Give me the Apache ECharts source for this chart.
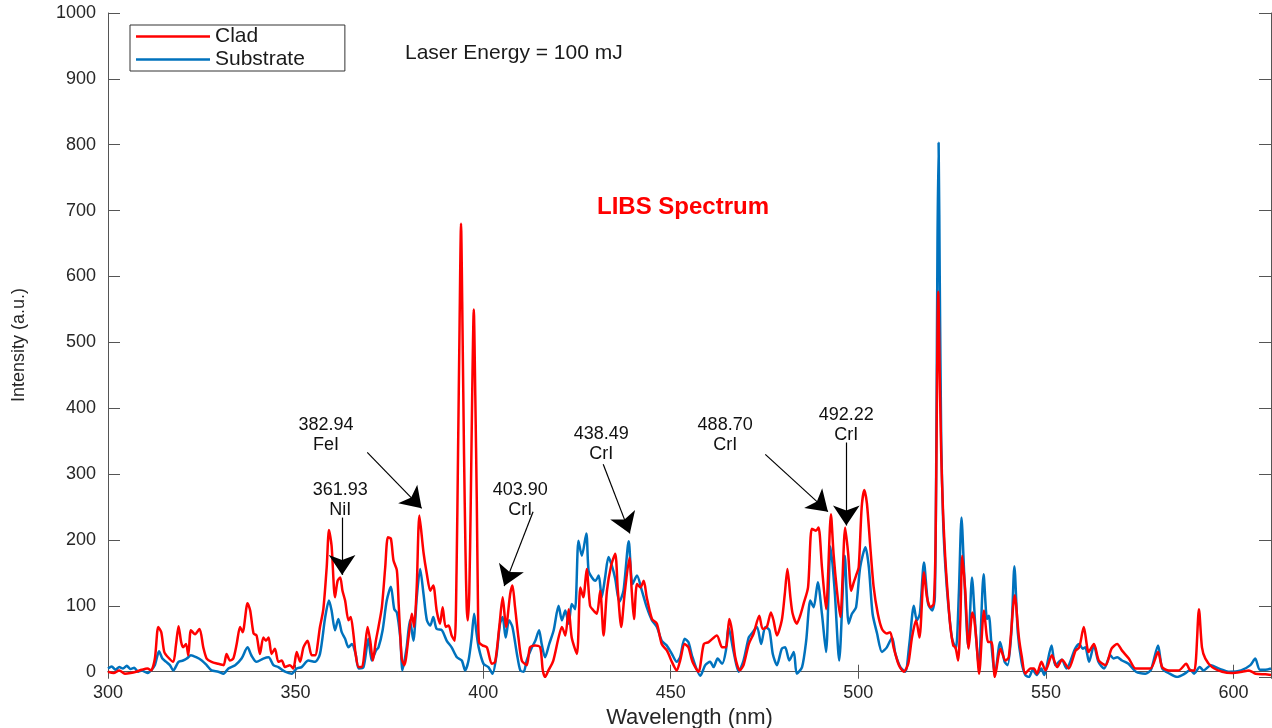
<!DOCTYPE html>
<html>
<head>
<meta charset="utf-8">
<title>LIBS Spectrum</title>
<script src="https://cdn.jsdelivr.net/npm/echarts@6/dist/echarts.min.js"></script>
<style>
  html, body { margin: 0; padding: 0; background: #fff; }
  #chart { width: 1272px; height: 728px; }
</style>
</head>
<body>
<div id="chart"></div>
<script>
// Clad spectrum (red)
const cladWl = [300,301.5,303,304.5,306,307.5,309,310.5,311.5,312.5,313.4,314.2,315,316,317.4,318.1,318.8,319.5,320,320.8,321.4,322.1,323.2,324.4,325.4,326.3,327.6,329.4,330.8,331.6,332.5,333.4,334.3,335.2,335.9,337.2,337.9,338.8,339.6,340.5,341.4,342.1,342.8,343.6,344.5,345.4,346.3,347.2,348.5,349.4,350.3,351.2,352.1,353.2,354.3,355.2,356.5,357.4,358.3,358.9,359.6,360.5,361.2,361.9,362.5,363.2,364.1,364.7,365.4,366,366.8,367.7,368.5,369.2,369.9,370.6,371.4,372.1,373,373.9,374.6,375.4,376.1,377,377.5,378.3,379,380.1,381,381.6,382.3,383,384.1,385,385.9,386.7,387.6,388.5,389.2,390,390.8,391.6,392.4,392.9,393.3,393.7,394.1,394.5,394.9,395.3,395.6,395.9,396.3,396.7,397.1,397.5,397.9,398.3,398.6,398.9,399.8,401,402.3,403.2,404.3,405.2,406.1,407.2,407.8,408.5,409.4,410.3,411.6,412.5,413.9,415.2,415.9,416.5,417.4,418.7,420.1,421,421.9,422.8,423.6,425,425.9,426.7,427.6,428.5,429.4,430.3,431.2,432.1,433,434.1,435.2,435.9,436.8,437.7,439,439.6,440.2,441,441.9,442.8,443.6,445,446.3,447.6,449,450.3,451.6,452.5,453.7,454.7,455.8,457.4,458.8,460.1,462.3,463.7,464.7,465.6,466.3,467.2,468.4,469.4,470.8,472.1,473.6,474.5,475.6,476.7,477.4,478.3,479.6,480.4,481.1,481.9,482.5,483.6,484.5,485.4,486.6,487.6,488.7,489.4,490.3,491.4,492.7,493.4,494.3,495.2,496.5,497.3,498.1,498.8,499.4,500.1,500.9,501.6,502.3,503.2,504.1,505.2,506.3,507.6,508.5,509.4,510.8,512.1,513.3,514.3,515.4,516.3,517.5,518.3,519.2,520.1,520.6,521,521.3,521.7,522.1,522.6,523.2,523.8,524.5,525.3,525.9,526.6,527.2,527.7,528.5,529.4,530.4,530.9,531.5,532.2,533.5,534.6,535.5,536.4,537.9,539.2,540.1,541.7,542.8,543.6,544.5,545.9,546.8,547.6,548.8,549.9,551.6,553,554.3,556.1,557.9,558.9,560.1,561.4,562.8,564.1,565.9,567.5,569,570.3,572.1,573.9,575.9,577.9,579.9,581,582.8,585.4,587.4,588.5,589.6,590.8,591.6,592.5,594.3,597,599.6,602.3,604.1,605.9,608.5,610];
const cladInt = [0,-2,2,-3,-2,0,3,5,2,20,68,60,30,22,15,40,69,45,37,42,25,63,57,65,37,20,15,12,10,27,17,20,42,68,60,104,93,58,55,27,52,47,52,27,35,15,17,7,10,5,30,15,37,47,25,25,68,95,159,215,191,113,138,143,123,108,78,83,58,27,7,7,37,68,47,17,47,68,98,159,204,202,169,154,100,20,10,52,88,68,130,237,181,148,123,131,93,73,98,68,70,55,47,150,330,520,680,520,330,180,100,78,120,260,430,550,420,260,110,45,40,37,12,15,68,113,68,118,131,98,52,17,10,37,40,37,2,-8,2,17,52,68,55,95,52,27,128,113,156,100,93,88,123,55,123,161,179,123,68,118,173,123,80,133,128,138,113,80,73,42,32,15,2,17,42,37,15,0,42,45,55,37,37,80,63,22,2,10,42,58,85,65,68,90,78,55,78,118,156,113,88,73,85,103,128,217,214,219,159,95,239,179,123,83,219,179,123,136,146,159,250,276,255,189,128,88,65,58,60,37,10,0,12,52,78,52,151,113,98,103,200,450,577,450,330,240,170,120,70,40,37,17,80,176,123,35,90,80,45,-3,93,45,45,-8,35,17,22,116,52,22,-3,5,5,-3,15,2,25,7,18,5,32,37,68,30,42,17,10,35,42,32,20,5,5,5,30,7,2,2,12,2,2,95,37,20,7,0,-2,0,2,-3,-4,-5];

// Substrate spectrum (blue)
const subWl = [300,301,302,303,304,305,306,307,308,309,310.5,311.5,312.5,313.6,314.5,315.5,316.5,317.4,318.8,320,321,322.1,323.5,325,326.3,327.6,329.4,330.8,332.1,333.9,335.6,337.2,338.2,339.6,341.4,342.8,344.1,345.4,347.2,349,350.3,351.6,353.4,355.2,356.5,357.9,358.9,359.6,360.5,361.4,362.3,363.2,364.1,365,366,366.8,368.1,369.4,370.3,371.4,372.1,373.2,374.3,375.4,376.3,377,377.9,378.5,379.6,380.5,381.4,382.3,383.2,384.1,385,385.9,386.7,387.6,389,390.3,391.6,393,394.3,395.2,396.1,396.9,397.6,398.2,398.8,400.1,401.4,402.5,403.6,404.5,405.2,406,406.9,407.8,409,409.9,410.8,411.6,413,413.9,414.9,415.6,416.5,417.6,418.8,420.1,421,421.9,422.8,423.6,424.5,425.4,426.3,427.5,428.1,429,429.9,430.8,431.6,432.5,433.4,434.3,435.2,436.3,437.4,438.8,439.8,441,442.3,443.6,445,446.3,447.6,448.9,450.3,451.6,452.5,453.7,454.7,455.8,457.9,459.2,460.5,461.4,462.5,463.7,464.7,465.4,466.7,468.1,469.4,470.8,471.6,473,474.1,475.2,476.3,477.2,478.3,479.6,480.5,481.6,482.8,483.6,485,486.1,487.2,488.1,489.2,490.3,491.4,492.6,493.7,494.9,496.4,497.4,498.3,499.4,500.5,501.9,502.8,503.8,505,506.3,507.6,509,509.9,511.2,512.5,513.6,514.8,515.6,516.4,517.5,518.6,519.7,520.4,520.8,521.1,521.4,521.7,522.1,522.6,523.2,524,525,526,526.8,527.5,528.3,529.3,530.3,531.2,532.1,533.4,534.3,534.8,535.5,536.4,537.8,539,539.8,540.8,541.6,542.5,543.5,544.5,545.5,546.5,547.5,548.8,549.5,551.5,552.5,554.2,555.5,557.8,558.9,559.8,560.5,561.5,562.8,564,565.5,567.2,568,569,570.3,572,574,576.5,578,579.9,581,583,585,587,588.5,589.5,591,592,594,596,599,602,604.5,605.8,607,608.5,610];
const subInt = [5,8,3,7,5,9,4,6,0,2,-2,2,10,31,20,15,10,2,15,17,20,25,22,17,10,2,0,-3,5,10,20,37,25,15,20,22,10,7,0,-3,5,7,17,15,27,83,108,93,63,80,60,50,37,42,27,5,7,50,17,32,37,63,108,129,95,90,52,2,37,78,47,113,156,118,78,70,83,65,63,47,37,22,17,2,17,50,88,60,37,12,7,-3,27,73,83,52,78,68,27,2,0,17,37,47,63,42,22,42,63,100,78,93,73,103,95,199,176,210,153,143,138,146,113,143,174,161,141,106,123,198,133,146,123,98,78,68,47,40,27,15,22,50,45,22,-6,10,15,7,20,12,32,68,32,0,17,52,58,68,42,68,63,27,10,35,37,17,30,-3,7,47,108,98,136,88,30,190,123,17,176,73,88,98,159,189,159,88,58,30,37,52,27,7,0,42,100,78,88,166,103,93,113,350,650,803,600,350,230,160,100,50,35,120,234,138,37,143,68,5,148,80,85,40,-5,45,15,10,60,160,60,15,-5,-8,3,-5,5,-5,40,10,18,5,35,42,35,37,15,40,15,5,25,20,22,17,12,0,-3,3,40,5,-3,-8,-3,3,-3,7,2,10,5,0,2,10,20,3,3,5];

const yTicks = [0, 100, 200, 300, 400, 500, 600, 700, 800, 900, 1000];

// peak annotations: label, text anchor, arrow start, arrow tip (data units)
const annoText = ["382.94\nFeI", "361.93\nNiI", "403.90\nCrI", "438.49\nCrI", "488.70\nCrI", "492.22\nCrI"];
const annoAt = [[358.1, 360], [361.9, 261], [409.9, 261], [431.5, 345], [464.5, 359], [496.8, 374]];
const arrowFrom = [[369.1, 333], [362.4, 234], [413.3, 243], [432, 315], [475.2, 330], [496.8, 348]];
const arrowTo = [[383.6, 248], [362.4, 147], [405.6, 130], [439.1, 210], [491.9, 243], [496.8, 222]];

const FONT = "'Liberation Sans', Arial, sans-serif";
const AXIS_COLOR = "#555";
const LABEL_COLOR = "#262626";

var myChart = echarts.init(document.getElementById("chart"));

const zip = (xs, ys) => xs.map((x, i) => [x, ys[i]]);

const option = {
  animation: false,
  backgroundColor: "#fff",
  textStyle: { fontFamily: FONT },
  title: [
    {
      text: "LIBS Spectrum",
      left: 678,
      top: 190,
      textAlign: "center",
      textStyle: { color: "#ff0000", fontSize: 24, fontWeight: "bold", fontFamily: FONT },
    },
    {
      text: "Laser Energy = 100 mJ",
      left: 400,
      top: 38,
      textStyle: { color: "#1a1a1a", fontSize: 21, fontWeight: "normal", fontFamily: FONT },
    },
  ],
  legend: {
    orient: "vertical",
    left: 130,
    top: 25,
    data: [
      { name: "Clad", icon: "rect" },
      { name: "Substrate", icon: "rect" },
    ],
    itemWidth: 74,
    itemHeight: 2.5,
    itemGap: 2,
    padding: [1, 40, 1, 6],
    borderColor: "#333",
    borderWidth: 1,
    backgroundColor: "#fff",
    textStyle: { fontSize: 21, color: "#1a1a1a", fontFamily: FONT },
  },
  grid: { left: 108, right: 1, top: 13, bottom: 51, show: false, outerBoundsMode: "none" },
  xAxis: [
    {
      type: "value",
      min: 300,
      max: 610,
      interval: 50,
      name: "Wavelength (nm)",
      nameLocation: "middle",
      nameGap: 25,
      nameTextStyle: { fontSize: 22, color: LABEL_COLOR, fontFamily: FONT },
      axisLine: { show: true, lineStyle: { color: AXIS_COLOR, width: 1 } },
      axisTick: { show: true, inside: true, length: 7, lineStyle: { color: AXIS_COLOR } },
      axisLabel: { fontSize: 18, color: LABEL_COLOR, margin: 7, showMaxLabel: false },
      splitLine: { show: false },
    },
    {
      type: "value",
      position: "top",
      min: 300,
      max: 610,
      interval: 50,
      axisLine: { show: true, lineStyle: { color: AXIS_COLOR, width: 1 } },
      axisTick: { show: true, inside: true, length: 7, lineStyle: { color: AXIS_COLOR } },
      axisLabel: { show: false },
      splitLine: { show: false },
    },
  ],
  yAxis: [
    {
      type: "value",
      min: -8,
      max: 1000,
      minInterval: 100,
      maxInterval: 100,
      name: "Intensity (a.u.)",
      nameLocation: "middle",
      nameGap: 80,
      nameTextStyle: { fontSize: 18, color: LABEL_COLOR, fontFamily: FONT },
      axisLine: { show: true, lineStyle: { color: AXIS_COLOR, width: 1 } },
      axisTick: { show: true, inside: true, length: 12, lineStyle: { color: AXIS_COLOR } },
      axisLabel: {
        fontSize: 18,
        color: LABEL_COLOR,
        margin: 12,
        showMinLabel: false,
        formatter: (v) => (yTicks.indexOf(v) >= 0 ? String(v) : ""),
      },
      splitLine: { show: false },
    },
    {
      type: "value",
      position: "right",
      min: -8,
      max: 1000,
      minInterval: 100,
      maxInterval: 100,
      axisLine: { show: true, lineStyle: { color: AXIS_COLOR, width: 1 } },
      axisTick: { show: true, inside: true, length: 12, lineStyle: { color: AXIS_COLOR } },
      axisLabel: { show: false },
      splitLine: { show: false },
    },
  ],
  series: [
    {
      name: "Substrate",
      type: "line",
      data: zip(subWl, subInt),
      symbol: "none",
      smooth: 0.25,
      lineStyle: { color: "#0072BD", width: 2.5 },
      itemStyle: { color: "#0072BD" },
      z: 2,
    },
    {
      name: "Clad",
      type: "line",
      data: zip(cladWl, cladInt),
      symbol: "none",
      smooth: 0.25,
      lineStyle: { color: "#ff0000", width: 2.5 },
      itemStyle: { color: "#ff0000" },
      z: 3,
      markLine: {
        silent: true,
        symbol: ["none", "arrow"],
        symbolSize: 20,
        label: { show: false },
        itemStyle: { color: "#000" },
        lineStyle: { color: "#000", width: 1.2, type: "solid" },
        data: arrowFrom.map((p, i) => [{ coord: p }, { coord: arrowTo[i] }]),
      },
      markPoint: {
        silent: true,
        symbol: "circle",
        symbolSize: 1,
        itemStyle: { color: "rgba(0,0,0,0)" },
        label: {
          show: true,
          position: "inside",
          color: "#111",
          fontSize: 18,
          lineHeight: 20,
          align: "center",
          fontFamily: FONT,
          formatter: (p) => p.name,
        },
        data: annoText.map((t, i) => ({ name: t, coord: annoAt[i] })),
      },
    },
  ],
};

myChart.setOption(option);
</script>
</body>
</html>
